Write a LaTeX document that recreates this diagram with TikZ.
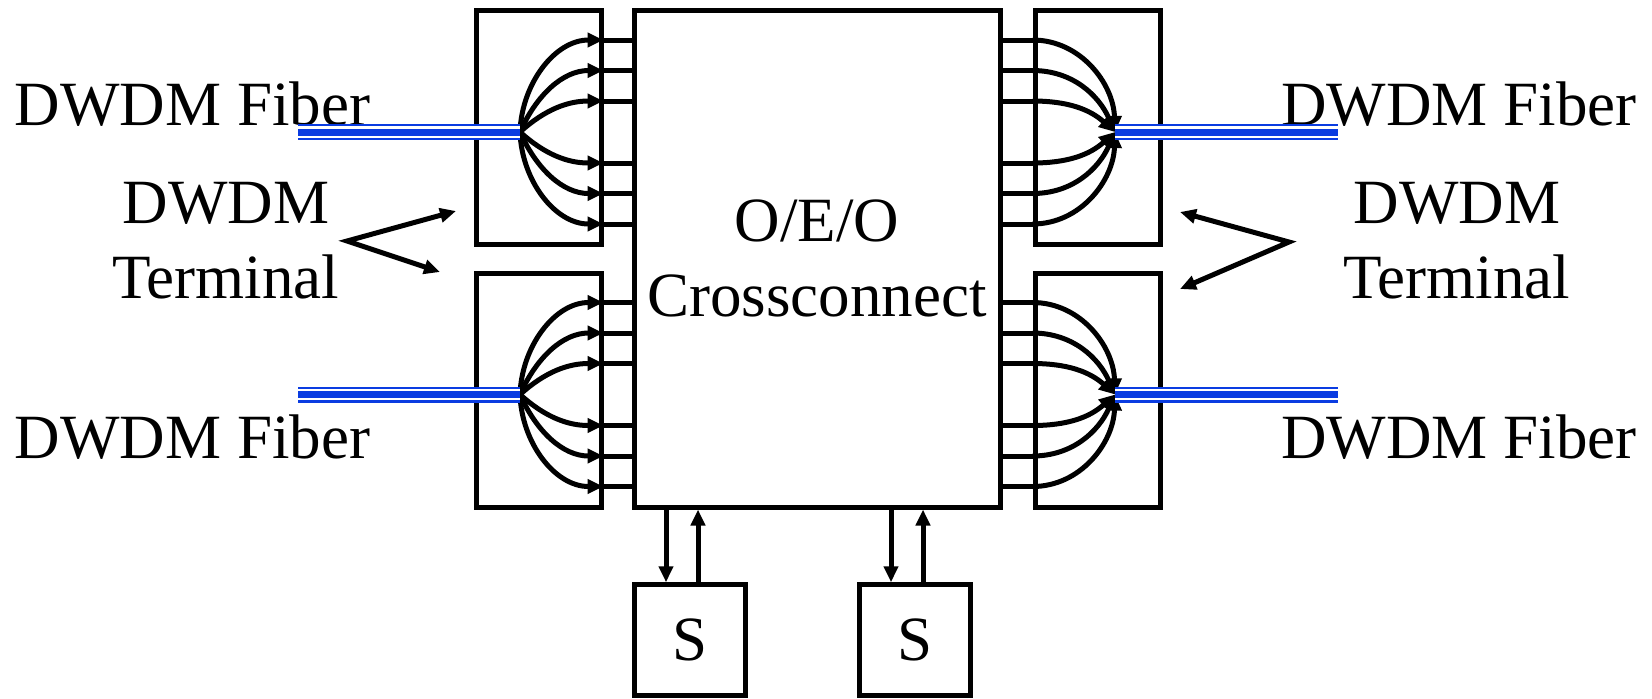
\documentclass[tikz,border=0pt]{standalone}
\usepackage{fontspec}
\setmainfont{Liberation Serif}
\usetikzlibrary{arrows.meta}
\definecolor{fibreblue}{RGB}{10,60,225}

\begin{document}
\begin{tikzpicture}[x=0.5pt, y=0.5pt, line width=2.5pt,
    >={Triangle[length=8pt,width=7pt]},
    every node/.style={font=\fontsize{31.5}{37.5}\selectfont, inner sep=0pt},
    box/.style={draw, rectangle, fill=white},
    fibre/.style={draw=fibreblue, line width=8pt},
    gap/.style={draw=white, line width=1.1pt}]
    \useasboundingbox (0,0) rectangle (1652,-698);

    % boxes
    \node[box, minimum width=183pt, minimum height=248.25pt, align=center] (oxc) at (817,-258.75) {O/E/O\\Crossconnect};
    \node[box, minimum width=62.5pt, minimum height=117pt] (lt) at (538.5,-127.5) {};
    \node[box, minimum width=62.5pt, minimum height=117pt] (lb) at (538.5,-390) {};
    \node[box, minimum width=62.5pt, minimum height=117pt] (rt) at (1097.5,-127.5) {};
    \node[box, minimum width=62.5pt, minimum height=117pt] (rb) at (1097.5,-390) {};
    \node[box, minimum width=55.75pt, minimum height=55.25pt] (s1) at (690,-640) {S};
    \node[box, minimum width=55.5pt, minimum height=55.25pt] (s2) at (915,-640) {S};

    % labels
    \node[anchor=base] (fl1) at (192.5,-125) {DWDM Fiber};
    \node[anchor=base] (fl2) at (192.5,-458) {DWDM Fiber};
    \node[anchor=base] (fr1) at (1459,-125) {DWDM Fiber};
    \node[anchor=base] (fr2) at (1459,-458) {DWDM Fiber};
    \node[align=center] (tl) at (226,-241) {DWDM\\Terminal};
    \node[align=center] (tr) at (1457,-241) {DWDM\\Terminal};

    \coordinate (lv) at (347,-241);
    \coordinate (la1) at (456,-211);
    \coordinate (la2) at (440,-272);
    \coordinate (rv) at (1289,-242);
    \coordinate (ra1) at (1180,-212);
    \coordinate (ra2) at (1180,-289);
    \draw[<->] (la1) -- (lv) -- (la2);
    \draw[<->] (ra1) -- (rv) -- (ra2);

    % demux / mux fans
    \foreach \v/\yc in {t/132, b/394.5}{
        \coordinate (ol\v) at (520,-\yc);
        \coordinate (or\v) at (1115,-\yc);
        \coordinate (el\v) at (298,-\yc);
        \coordinate (er\v) at (1338,-\yc);
        \foreach \dy/\a [evaluate=\dy as \yy using \dy-\yc, evaluate=\a as \b using 180-\a] in
            {92/88, 61.5/66, 31/42, -31/-42, -61.5/-66, -92/-88}{
            \coordinate (h) at (0,\yy);
            \draw[->] (ol\v) to[out=\a, in=180] (l\v.east |- h);
            \draw (l\v.east |- h) -- (oxc.west |- h);
            \draw (oxc.east |- h) -- (r\v.west |- h);
            \draw[->] (r\v.west |- h) to[out=0, in=\b] (or\v);
        }
        \draw[fibre] (el\v) -- (ol\v);
        \draw[gap] ([yshift=2.3pt]el\v) -- ([yshift=2.3pt]ol\v);
        \draw[gap] ([yshift=-2.3pt]el\v) -- ([yshift=-2.3pt]ol\v);
        \draw[fibre] (or\v) -- (er\v);
        \draw[gap] ([yshift=2.3pt]or\v) -- ([yshift=2.3pt]er\v);
        \draw[gap] ([yshift=-2.3pt]or\v) -- ([yshift=-2.3pt]er\v);
    }

    % crossconnect to S
    \foreach \s in {s1, s2}{
        \draw[->] ([xshift=-12pt]\s.north |- oxc.south) -- ([xshift=-12pt]\s.north);
        \draw[->] ([xshift=4pt]\s.north) -- ([xshift=4pt]\s.north |- oxc.south);
    }
\end{tikzpicture}
\end{document}
